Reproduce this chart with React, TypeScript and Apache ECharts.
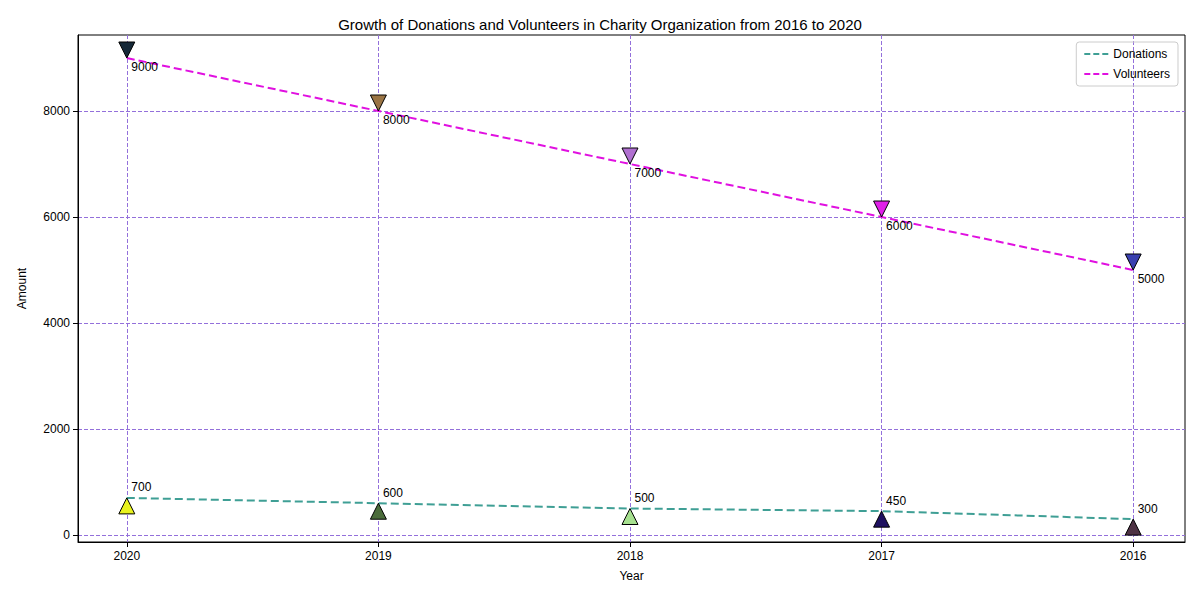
import { useEffect, useRef } from 'react';
import * as echarts from 'echarts';

const years = ['2020', '2019', '2018', '2017', '2016'];
const donations = [700, 600, 500, 450, 300];
const volunteers = [9000, 8000, 7000, 6000, 5000];
const donationColors = ['#e8f21e', '#4a6b3a', '#a6e08f', '#1e1060', '#4e3244'];
const volunteerColors = ['#152838', '#9a7444', '#b070d0', '#e020e8', '#3a40b0'];
const yTicks = [0, 2000, 4000, 6000, 8000];

const dashIcon = 'path://M0,0H6V2H0ZM9,0H15V2H9ZM18,0H24V2H18Z';

export default function App() {
  const ref = useRef<HTMLDivElement>(null);

  useEffect(() => {
    if (!ref.current) return;
    const chart = echarts.init(ref.current, undefined, { renderer: 'svg' });
    const font = 'Liberation Sans, DejaVu Sans, sans-serif';
    const grid = { type: 'dashed' as const, color: '#9370db', width: 1 };

    const pts = (vals: number[]) => vals.map((v, i) => [i, v]);

    chart.setOption({
      animation: false,
      textStyle: { fontFamily: font },
      title: {
        text: 'Growth of Donations and Volunteers in Charity Organization from 2016 to 2020',
        left: 'center',
        top: 4,
        textStyle: { fontSize: 15, fontWeight: 'normal', color: '#000', fontFamily: font },
      },
      legend: {
        right: 14,
        top: 34,
        orient: 'vertical',
        data: [
          { name: 'Donations', icon: dashIcon, itemStyle: { color: '#3f9f95' } },
          { name: 'Volunteers', icon: dashIcon, itemStyle: { color: '#e010e0' } },
        ],
        borderColor: '#ccc',
        borderWidth: 1,
        borderRadius: 3,
        padding: [6, 8],
        itemGap: 8,
        itemWidth: 24,
        itemHeight: 2,
        textStyle: { fontSize: 12, color: '#000' },
      },
      grid: { left: 68, right: 7, top: 27, bottom: 50, show: true, borderColor: '#000', borderWidth: 1 },
      xAxis: {
        type: 'value',
        min: -0.194,
        max: 4.206,
        name: 'Year',
        nameLocation: 'middle',
        nameGap: 28,
        nameTextStyle: { fontSize: 12, color: '#000' },
        axisLine: { onZero: false, lineStyle: { color: '#000' } },
        axisTick: { customValues: [0, 1, 2, 3, 4], lineStyle: { color: '#000' } },
        axisLabel: { customValues: [0, 1, 2, 3, 4], formatter: (v: number) => years[Math.round(v)], color: '#000', fontSize: 12 },
        splitLine: { show: true, lineStyle: grid },
      },
      yAxis: {
        type: 'value',
        min: -132,
        max: 9434,
        name: 'Amount',
        nameLocation: 'middle',
        nameGap: 50,
        nameTextStyle: { fontSize: 12, color: '#000' },
        axisLine: { show: true, onZero: false, lineStyle: { color: '#000' } },
        axisTick: { show: true, customValues: yTicks, lineStyle: { color: '#000' } },
        axisLabel: { customValues: yTicks, formatter: (v: number) => String(v), color: '#000', fontSize: 12 },
        splitLine: { show: true, lineStyle: grid },
      },
      series: [
        {
          name: 'Donations',
          type: 'line',
          data: pts(donations),
          symbol: 'none',
          lineStyle: { color: '#3f9f95', type: 'dashed', width: 2 },
          itemStyle: { color: '#3f9f95' },
          z: 3,
        },
        {
          name: 'Volunteers',
          type: 'line',
          data: pts(volunteers),
          symbol: 'none',
          lineStyle: { color: '#e010e0', type: 'dashed', width: 2 },
          itemStyle: { color: '#e010e0' },
          z: 3,
        },
        {
          type: 'scatter',
          data: donations.map((v, i) => ({ value: [i, v], itemStyle: { color: donationColors[i] } })),
          symbol: 'triangle',
          symbolSize: [16, 16],
          symbolOffset: [0, 8],
          itemStyle: { borderColor: '#000', borderWidth: 1, opacity: 1 },
          label: {
            show: true,
            position: 'insideBottomLeft',
            formatter: (p: any) => String(p.value[1]),
            offset: [8, -16],
            color: '#000',
            fontSize: 12,
          },
          z: 5,
        },
        {
          type: 'scatter',
          data: volunteers.map((v, i) => ({ value: [i, v], itemStyle: { color: volunteerColors[i] } })),
          symbol: 'triangle',
          symbolRotate: 180,
          symbolSize: [16, 16],
          symbolOffset: [0, -8],
          itemStyle: { borderColor: '#000', borderWidth: 1, opacity: 1 },
          label: {
            show: true,
            position: 'insideTopLeft',
            formatter: (p: any) => String(p.value[1]),
            offset: [8, 14],
            color: '#000',
            fontSize: 12,
          },
          z: 5,
        },
      ],
    });

    return () => chart.dispose();
  }, []);

  return <div ref={ref} style={{ width: 1184, height: 584 }} />;
}
